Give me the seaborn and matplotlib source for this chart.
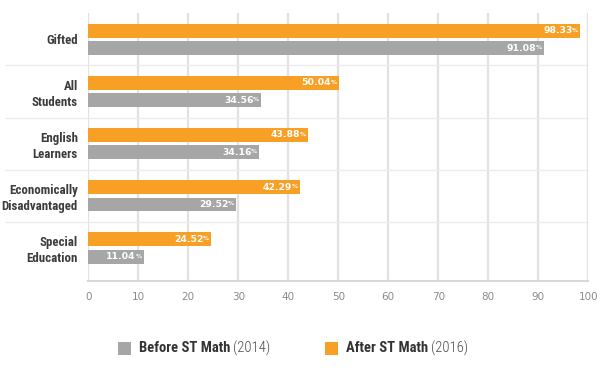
import matplotlib
matplotlib.use("Agg")
import matplotlib.pyplot as plt
from matplotlib.patches import Rectangle
import pandas as pd
import seaborn as sns

groups = ["Gifted", "All\nStudents", "English\nLearners",
          "Economically\nDisadvantaged", "Special\nEducation"]
before_2014 = [91.08, 34.56, 34.16, 29.52, 11.04]
after_2016 = [98.33, 50.04, 43.88, 42.29, 24.52]
series_names = ["Before ST Math", "After ST Math"]
series_years = ["(2014)", "(2016)"]
x_ticks = list(range(0, 101, 10))

GRAY = "#a6a6a6"
ORANGE = "#f7a025"
GRID = "#e2e2e2"
COND = ["Roboto Condensed", "DejaVu Sans"]

sns.set_style("white")
plt.rcParams["font.family"] = ["DejaVu Sans"]

df = pd.DataFrame({
    "group": groups * 2,
    "value": before_2014 + after_2016,
    "series": [series_names[0]] * 5 + [series_names[1]] * 5,
})

fig = plt.figure(figsize=(6, 3.77), dpi=100)
W, H = 600, 377
ax = fig.add_axes([88.3 / W, 1 - 281 / H, 500 / W, 267.7 / H])

sns.barplot(data=df, x="value", y="group", hue="series", order=groups,
            hue_order=[series_names[1], series_names[0]],
            palette=[ORANGE, GRAY], saturation=1, width=0.667, gap=0.196,
            orient="h", linewidth=0, legend=False, ax=ax)

ax.set_xlim(0, 100)
ax.set_ylim(4.634, -0.5)
ax.set_xlabel("")
ax.set_ylabel("")

# vertical grid
for xt in x_ticks:
    ax.axvline(xt, color=GRID, lw=1.6, zorder=0)
# horizontal separators between groups
for yy in [0.5, 1.5, 2.5, 3.5]:
    ax.axhline(yy, xmin=-0.166, xmax=1, color="#ececec", lw=1, zorder=0, clip_on=False)

for s in ["top", "right", "left"]:
    ax.spines[s].set_visible(False)
ax.spines["bottom"].set_color("#d8d8d8")
ax.spines["bottom"].set_linewidth(1.5)

ax.set_xticks(list(range(0, 101, 5)))
ax.set_xticklabels([str(v) if v % 10 == 0 else "" for v in range(0, 101, 5)])
ax.set_xticks(list(range(0, 101)), minor=True)
ax.tick_params(axis="x", which="major", direction="in", length=5, width=1,
               color="#d0d0d0", pad=8, labelsize=7.5, labelcolor="#8a8a8a")
ax.tick_params(axis="x", which="minor", direction="in", length=3, width=0.8,
               color="#d6d6d6")
ax.tick_params(axis="y", length=0, pad=7.5)
for lbl in ax.get_yticklabels():
    lbl.set_fontfamily(COND)
    lbl.set_fontweight("bold")
    lbl.set_fontsize(9.3)
    lbl.set_color("#3c3c3c")
    lbl.set_linespacing(1.3)

# value labels inside bars
for cont in ax.containers:
    for bar in cont:
        v = bar.get_width()
        yc = bar.get_y() + bar.get_height() / 2
        ax.text(v - 1.5, yc, f"{v:.2f}", ha="right", va="center",
                color="white", fontweight="bold", fontsize=6.7)
        ax.text(v - 0.4, yc - 0.01, "%", ha="right", va="center",
                color="white", fontweight="bold", fontsize=4.3)

# legend
fig.canvas.draw()
rend = fig.canvas.get_renderer()
for sx, col, name, yr in [(118, GRAY, series_names[0], series_years[0]),
                          (325, ORANGE, series_names[1], series_years[1])]:
    fig.patches.append(Rectangle((sx / W, 1 - 355 / H), 13 / W, 13 / H,
                                 transform=fig.transFigure, color=col, lw=0))
    t = fig.text((sx + 21) / W, 1 - 348 / H, name, ha="left", va="center",
                 fontfamily=COND, fontweight="bold", fontsize=10.5, color="#333333")
    bb = t.get_window_extent(rend)
    fig.text((bb.x1 + 3) / W, 1 - 348 / H, yr, ha="left", va="center",
             fontfamily=COND, fontweight=300, fontsize=10.5, color="#4a4a4a")

fig.savefig("out.png", dpi=100)
